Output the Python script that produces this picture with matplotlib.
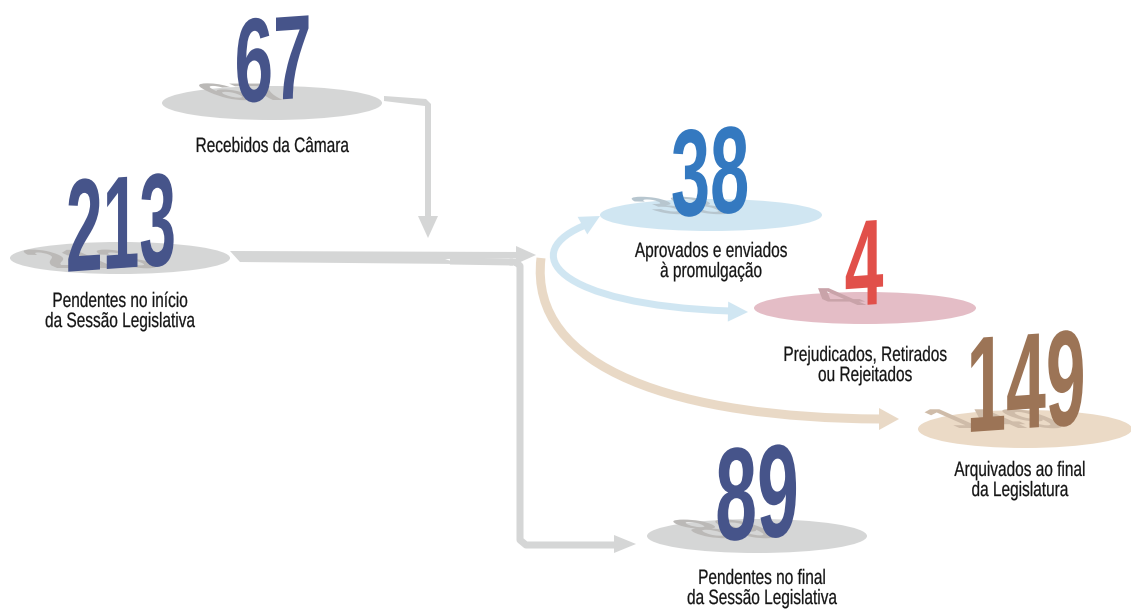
import numpy as np
import matplotlib
matplotlib.use("Agg")
import matplotlib.pyplot as plt
from matplotlib.patches import Ellipse, Polygon, PathPatch
from matplotlib.path import Path
from matplotlib.transforms import Affine2D
from matplotlib import patheffects

# Data
values = [67, 213, 38, 4, 149, 89]
labels = [
    "Recebidos da Câmara",
    "Pendentes no início\nda Sessão Legislativa",
    "Aprovados e enviados\nà promulgação",
    "Prejudicados, Retirados\nou Rejeitados",
    "Arquivados ao final\nda Legislatura",
    "Pendentes no final\nda Sessão Legislativa",
]

# Layout (pixel coordinates, y down)
disc_xy = [(272, 103), (120, 258), (711, 215), (865, 308), (1025, 429), (757, 536)]
disc_wh = [(220, 34), (220, 32), (222, 32), (222, 32), (214, 38), (220, 34)]
num_base = [(273, 100), (121, 268), (710, 214), (864, 305), (1026, 428), (757, 538)]
num_size = [86, 95, 89, 88, 98, 95]
num_sx = [0.58, 0.50, 0.57, 0.57, 0.525, 0.57]
label_xy = [(272, 146), (120, 311), (711, 261), (865, 365), (1020, 480), (762, 588)]
num_colors = ["#46548a", "#46548a", "#3479c0", "#e1504a", "#9c7456", "#46548a"]
disc_colors = ["#d5d6d6", "#d5d6d6", "#d0e6f2", "#e4bdc6", "#ebdac6", "#d5d6d6"]
gray = "#d5d6d6"
blue = "#d0e6f2"
tan = "#e9d9c6"
label_sx = 0.74


class Stretch(patheffects.AbstractPathEffect):
    """Draw text stretched vertically about its baseline (and optionally sheared)."""

    def __init__(self, sy=1.35, k=0.0, stroke=0.0):
        super().__init__()
        self.sy = sy
        self.k = k
        self.stroke = stroke

    def draw_path(self, renderer, gc, tpath, affine, rgbFace=None):
        ext = tpath.get_extents()
        cx = (ext.x0 + ext.x1) / 2
        t = (Affine2D().translate(-cx, 0).scale(1, self.sy)
             .skew(0, np.arctan(self.k)).translate(cx, 0)) + affine
        if self.stroke > 0:
            gc0 = renderer.new_gc()
            gc0.copy_properties(gc)
            gc0.set_linewidth(self.stroke)
            gc0.set_foreground(rgbFace)
            renderer.draw_path(gc0, tpath, t, rgbFace)
            gc0.restore()
        else:
            renderer.draw_path(gc, tpath, t, rgbFace)


class FlatShadow(patheffects.AbstractPathEffect):
    """Flattened, leaning shadow of the number lying on the disc."""

    def __init__(self, color, sy=1.75):
        super().__init__()
        self.color = matplotlib.colors.to_rgb(color)
        self.sy = sy

    def draw_path(self, renderer, gc, tpath, affine, rgbFace=None):
        ext = tpath.get_extents()
        h = ext.y1 * self.sy
        m = Affine2D.from_values(1, 0, -0.45 * self.sy, 0.2 * self.sy,
                                 -0.12 * h, 0)
        renderer.draw_path(gc, tpath, m + affine, self.color)


def shade(c, f=0.88):
    r, g, b = matplotlib.colors.to_rgb(c)
    return (r * f, g * f * 0.98, b * f * 0.97)


def arrow_head(ax, tip, direction, color, length=18, half=10):
    d = np.array(direction, float)
    d /= np.hypot(*d)
    n = np.array([-d[1], d[0]])
    tip = np.array(tip, float)
    base = tip - d * length
    ax.add_patch(Polygon([tip, base + n * half, base - n * half],
                         closed=True, color=color, lw=0, zorder=1))


fig = plt.figure(figsize=(11.31, 6.10), dpi=100)
ax = fig.add_axes([0, 0, 1, 1])
ax.set_xlim(0, 1131)
ax.set_ylim(610, 0)
ax.axis("off")

lw = 7 * 0.72

# gray flows
ax.add_patch(Polygon([(384, 96), (426, 99), (431, 104), (431, 220), (425, 220),
                      (425, 106), (384, 101)], closed=True, color=gray, lw=0, zorder=1))
arrow_head(ax, (428, 238), (0, 1), gray, length=22, half=10)
ax.add_patch(Polygon([(230, 251), (520, 252), (520, 258), (445, 259), (460, 264),
                      (240, 262)], closed=True, color=gray, lw=0, zorder=1))
arrow_head(ax, (536, 255), (1, 0), gray, length=20, half=9)
ax.plot([450, 513], [261, 262], color=gray, lw=lw, solid_capstyle="butt", zorder=1)
ax.plot([513, 516, 520, 520, 526, 615], [262, 262, 266, 540, 545, 545], color=gray,
        lw=lw, solid_joinstyle="round", zorder=1)
arrow_head(ax, (636, 544), (1, 0), gray, length=22, half=9)

# tan curve
tan_path = Path([(541, 258), (528, 370), (680, 418), (880, 419)],
                [Path.MOVETO, Path.CURVE4, Path.CURVE4, Path.CURVE4])
ax.add_patch(PathPatch(tan_path, fill=False, ec=tan, lw=9 * 0.72, zorder=1))
arrow_head(ax, (899, 419), (1, 0), tan, length=20, half=11)

# blue curve
blue_path = Path([(588, 224), (515, 252), (555, 305), (730, 311)],
                 [Path.MOVETO, Path.CURVE4, Path.CURVE4, Path.CURVE4])
ax.add_patch(PathPatch(blue_path, fill=False, ec=blue, lw=7 * 0.72, zorder=2))
arrow_head(ax, (600, 216), (1, -0.55), blue, length=20, half=10)
arrow_head(ax, (748, 312), (1, 0.02), blue, length=20, half=10)

# discs, numbers, labels
for v, lab, dxy, dwh, nb, ns, sx, lxy, nc, dc in zip(values, labels, disc_xy, disc_wh,
                                                       num_base, num_size, num_sx,
                                                       label_xy, num_colors, disc_colors):
    ax.add_patch(Ellipse(dxy, dwh[0], dwh[1], color=dc, lw=0, zorder=3))
    ax.text(nb[0], nb[1], str(v), ha="center", va="baseline", color=nc,
            fontsize=ns * sx, fontfamily="Liberation Sans", fontweight="bold", zorder=5,
            path_effects=[FlatShadow(shade(dc), sy=1 / sx), Stretch(sy=1 / sx, k=0.07)])
    ax.text(lxy[0], lxy[1] + 2, lab, ha="center", va="center", color="#141414",
            fontsize=15 * label_sx, fontfamily="Liberation Sans",
            linespacing=1.15 / label_sx, zorder=6,
            path_effects=[Stretch(sy=1 / label_sx, stroke=0.15)])

fig.savefig("out.png", dpi=100, facecolor="white")
